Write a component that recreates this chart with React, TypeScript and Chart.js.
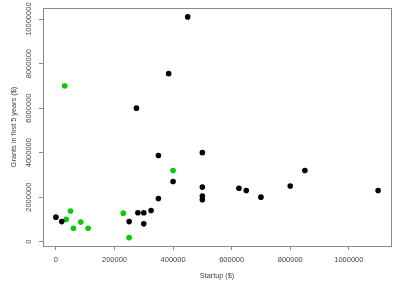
import React, { useEffect, useRef } from "react";
import { Chart, registerables } from "chart.js";

Chart.register(...registerables);

const blackX = [0, 20000, 250000, 280000, 300000, 300000, 325000, 350000, 350000, 400000, 275000, 385000, 450000, 500000, 500000, 500000, 500000, 625000, 650000, 700000, 800000, 850000, 1100000];
const blackY = [1100000, 900000, 900000, 1300000, 1300000, 800000, 1400000, 3870000, 1940000, 2700000, 6000000, 7550000, 10100000, 4000000, 2450000, 2050000, 1880000, 2400000, 2300000, 2000000, 2500000, 3200000, 2300000];
const greenX = [30000, 35000, 50000, 60000, 85000, 110000, 230000, 250000, 400000];
const greenY = [7000000, 1000000, 1380000, 600000, 880000, 600000, 1280000, 180000, 3200000];

const xTicks = [0, 200000, 400000, 600000, 800000, 1000000];
const yTicks = [0, 2000000, 4000000, 6000000, 8000000, 10000000];
const xRange = [-44000, 1144000];
const yRange = [-196000, 10500000];

const xTitle = "Startup ($)";
const yTitle = "Grants in first 5 years ($)";

const FONT = "'Liberation Sans', Arial, sans-serif";
const TEXT = "#444";
const LINE = "#8a8a8a";

const boxPlugin = {
  id: "box",
  afterDatasetsDraw(chart: any) {
    const { ctx, chartArea } = chart;
    ctx.save();
    ctx.strokeStyle = LINE;
    ctx.lineWidth = 1;
    ctx.strokeRect(
      Math.round(chartArea.left) + 0.5,
      Math.round(chartArea.top) + 0.5,
      Math.round(chartArea.right - chartArea.left),
      Math.round(chartArea.bottom - chartArea.top)
    );
    ctx.restore();
  },
};

export default function App() {
  const ref = useRef<HTMLCanvasElement | null>(null);
  useEffect(() => {
    if (!ref.current) return;
    const toPts = (xs: number[], ys: number[]) => xs.map((x, i) => ({ x, y: ys[i] }));
    const chart = new Chart(ref.current, {
      type: "scatter",
      data: {
        datasets: [
          {
            label: "black",
            data: toPts(blackX, blackY),
            backgroundColor: "#000000",
            borderColor: "#000000",
            pointRadius: 2.8,
            pointBorderWidth: 0,
          },
          {
            label: "green",
            data: toPts(greenX, greenY),
            backgroundColor: "#00cd00",
            borderColor: "#00cd00",
            pointRadius: 2.8,
            pointBorderWidth: 0,
          },
        ],
      },
      options: {
        animation: false,
        responsive: false,
        devicePixelRatio: 1,
        layout: { padding: { left: 0, top: 8, right: 9, bottom: 0 } },
        plugins: { legend: { display: false }, tooltip: { enabled: false } },
        scales: {
          x: {
            type: "linear",
            min: xRange[0],
            max: xRange[1],
            afterBuildTicks: (s: any) => {
              s.ticks = xTicks.map((v) => ({ value: v }));
            },
            afterFit: (s: any) => {
              s.height = 44;
            },
            grid: { display: true, drawOnChartArea: false, drawTicks: true, tickLength: 4, color: LINE },
            border: { display: false },
            ticks: {
              autoSkip: false,
              maxRotation: 0,
              minRotation: 0,
              padding: 5,
              color: TEXT,
              font: { family: FONT, size: 7.5 },
              callback: (v: any) => String(v),
            },
            title: {
              display: true,
              text: xTitle,
              color: TEXT,
              font: { family: FONT, size: 7.3 },
              padding: { top: 0, bottom: 10 },
            },
          },
          y: {
            type: "linear",
            min: yRange[0],
            max: yRange[1],
            afterBuildTicks: (s: any) => {
              s.ticks = yTicks.map((v) => ({ value: v }));
            },
            afterFit: (s: any) => {
              s.width = 43;
            },
            grid: { display: true, drawOnChartArea: false, drawTicks: true, tickLength: 4, color: LINE },
            border: { display: false },
            ticks: {
              autoSkip: false,
              minRotation: 90,
              maxRotation: 90,
              crossAlign: "center",
              padding: -7,
              color: TEXT,
              font: { family: FONT, size: 7.5 },
              callback: (v: any) => String(v),
            },
            title: {
              display: true,
              text: yTitle,
              color: TEXT,
              font: { family: FONT, size: 7.3 },
              padding: { top: 10, bottom: 0 },
            },
          },
        },
      },
      plugins: [boxPlugin],
    });
    return () => chart.destroy();
  }, []);
  return (
    <div style={{ position: "fixed", left: 0, top: 0, width: 400, height: 290, background: "#fff" }}>
      <canvas ref={ref} width={400} height={290} style={{ width: 400, height: 290, display: "block" }} />
    </div>
  );
}
